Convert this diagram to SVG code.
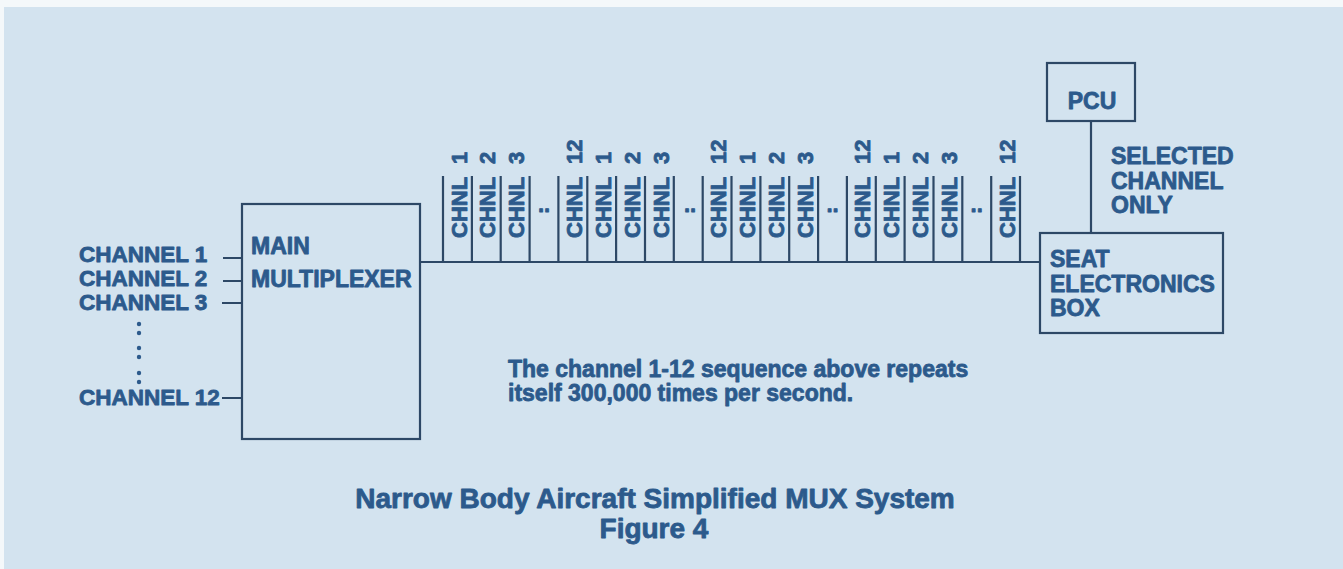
<svg xmlns="http://www.w3.org/2000/svg" width="1343" height="569" viewBox="0 0 1343 569">
<style>
.t{font-family:"Liberation Sans",Arial,sans-serif;font-weight:bold;fill:#2c5a8c;stroke:#2c5a8c;stroke-width:0.8;stroke-linejoin:round}
.lbl{font-size:23px}
.ch{font-size:22.5px}
.sl{font-size:22px}
.body{font-size:23px}
.cap{font-size:28px}
.ln{fill:none;stroke:#2d4866;stroke-width:2.2}
</style>
<rect x="0" y="0" width="1343" height="569" fill="#d3e3ef"/>
<rect x="0" y="0" width="1343" height="7" fill="#f4f8fa"/>
<rect x="0" y="0" width="4" height="569" fill="#f4f8fa"/>

<g id="connectors">
<path class="ln" d="M223 258H242M223 281H242M222 303H242M222 398H242"/>
<path class="ln" d="M420 262H1040"/>
<path class="ln" d="M443 176V262M471.9 176V262M500.7 176V262M529.6 176V262M558.4 176V262M587.3 176V262M616.1 176V262M645 176V262M673.8 176V262M702.7 176V262M731.5 176V262M760.4 176V262M789.2 176V262M818.1 176V262M846.9 176V262M875.8 176V262M904.6 176V262M933.5 176V262M962.3 176V262M991.2 176V262M1020 176V262"/>
<path class="ln" d="M1091 121V233"/>
</g>

<g id="inputs">
<text class="t ch" x="79" y="262">CHANNEL 1</text>
<text class="t ch" x="79" y="286">CHANNEL 2</text>
<text class="t ch" x="79" y="310">CHANNEL 3</text>
<g fill="#2c5a8c">
<circle cx="139" cy="324" r="2.2"/><circle cx="139" cy="333" r="2.2"/>
<circle cx="139" cy="348" r="2.2"/><circle cx="139" cy="357" r="2.2"/>
<circle cx="139" cy="373" r="2.2"/><circle cx="139" cy="382" r="2.2"/>
</g>
<text class="t ch" x="79" y="405">CHANNEL 12</text>
</g>

<g id="main-multiplexer">
<rect class="ln" x="242" y="204" width="178" height="235"/>
<text class="t lbl" x="251" y="254">MAIN</text>
<text class="t lbl" x="251" y="287">MULTIPLEXER</text>
</g>

<g id="channel-slots">
<text class="t sl" transform="translate(466.5 238) rotate(-90)">CHNL</text>
<text class="t sl" transform="translate(466.5 164) rotate(-90)">1</text>
<text class="t sl" transform="translate(495.4 238) rotate(-90)">CHNL</text>
<text class="t sl" transform="translate(495.4 164) rotate(-90)">2</text>
<text class="t sl" transform="translate(524.2 238) rotate(-90)">CHNL</text>
<text class="t sl" transform="translate(524.2 164) rotate(-90)">3</text>
<text class="t sl" x="544" y="212" text-anchor="middle">..</text>
<text class="t sl" transform="translate(581.9 238) rotate(-90)">CHNL</text>
<text class="t sl" transform="translate(581.9 164) rotate(-90)">12</text>

<text class="t sl" transform="translate(610.8 238) rotate(-90)">CHNL</text>
<text class="t sl" transform="translate(610.8 164) rotate(-90)">1</text>
<text class="t sl" transform="translate(639.6 238) rotate(-90)">CHNL</text>
<text class="t sl" transform="translate(639.6 164) rotate(-90)">2</text>
<text class="t sl" transform="translate(668.5 238) rotate(-90)">CHNL</text>
<text class="t sl" transform="translate(668.5 164) rotate(-90)">3</text>
<text class="t sl" x="690" y="212" text-anchor="middle">..</text>
<text class="t sl" transform="translate(726.2 238) rotate(-90)">CHNL</text>
<text class="t sl" transform="translate(726.2 164) rotate(-90)">12</text>

<text class="t sl" transform="translate(755 238) rotate(-90)">CHNL</text>
<text class="t sl" transform="translate(755 164) rotate(-90)">1</text>
<text class="t sl" transform="translate(783.9 238) rotate(-90)">CHNL</text>
<text class="t sl" transform="translate(783.9 164) rotate(-90)">2</text>
<text class="t sl" transform="translate(812.7 238) rotate(-90)">CHNL</text>
<text class="t sl" transform="translate(812.7 164) rotate(-90)">3</text>
<text class="t sl" x="832.5" y="212" text-anchor="middle">..</text>
<text class="t sl" transform="translate(870.4 238) rotate(-90)">CHNL</text>
<text class="t sl" transform="translate(870.4 164) rotate(-90)">12</text>

<text class="t sl" transform="translate(899.3 238) rotate(-90)">CHNL</text>
<text class="t sl" transform="translate(899.3 164) rotate(-90)">1</text>
<text class="t sl" transform="translate(928.1 238) rotate(-90)">CHNL</text>
<text class="t sl" transform="translate(928.1 164) rotate(-90)">2</text>
<text class="t sl" transform="translate(957 238) rotate(-90)">CHNL</text>
<text class="t sl" transform="translate(957 164) rotate(-90)">3</text>
<text class="t sl" x="976.7" y="212" text-anchor="middle">..</text>
<text class="t sl" transform="translate(1014.7 238) rotate(-90)">CHNL</text>
<text class="t sl" transform="translate(1014.7 164) rotate(-90)">12</text>
</g>

<g id="pcu">
<rect class="ln" x="1047" y="63" width="88" height="58"/>
<text class="t lbl" x="1092" y="109" text-anchor="middle">PCU</text>
</g>

<g id="selected-label">
<text class="t lbl" x="1111" y="164">SELECTED</text>
<text class="t lbl" x="1111" y="189">CHANNEL</text>
<text class="t lbl" x="1111" y="213">ONLY</text>
</g>

<g id="seat-electronics-box">
<rect class="ln" x="1040" y="233" width="183" height="100"/>
<text class="t lbl" x="1050" y="267">SEAT</text>
<text class="t lbl" x="1050" y="292">ELECTRONICS</text>
<text class="t lbl" x="1050" y="316">BOX</text>
</g>

<g id="note">
<text class="t body" x="508" y="377">The channel 1-12 sequence above repeats</text>
<text class="t body" x="508" y="401">itself 300,000 times per second.</text>
</g>

<g id="caption">
<text class="t cap" x="655" y="508" text-anchor="middle">Narrow Body Aircraft Simplified MUX System</text>
<text class="t cap" x="654" y="538" text-anchor="middle">Figure 4</text>
</g>
</svg>
